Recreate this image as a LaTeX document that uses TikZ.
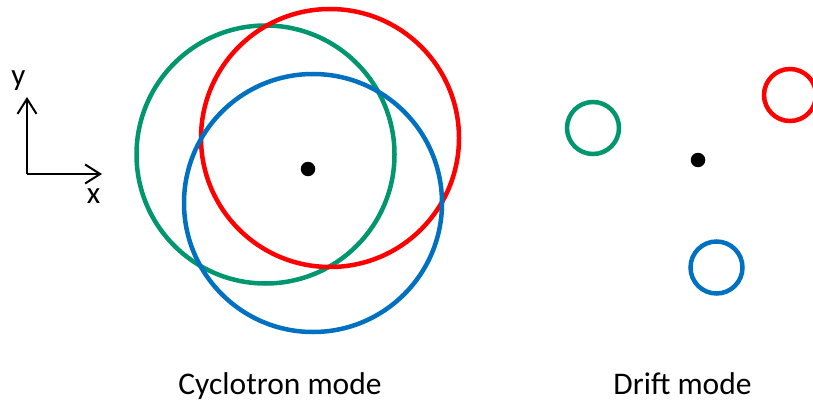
\documentclass[tikz,border=0pt]{standalone}
\usepackage{fontspec}
\setmainfont{Carlito}
\usetikzlibrary{arrows.meta}
\definecolor{cgreen}{RGB}{0,150,110}
\definecolor{cred}{RGB}{255,0,0}
\definecolor{cblue}{RGB}{0,112,192}
\tikzset{
  orbit/.style={circle, draw=#1, line width=4.5pt, inner sep=0pt, minimum size=258pt},
  small/.style={circle, draw=#1, line width=4.5pt, inner sep=0pt, minimum size=52pt},
  guide/.style={circle, fill=black, inner sep=0pt, minimum size=14.5pt},
  label/.style={font=\fontsize{31.5}{34}\selectfont, anchor=base},
  axislabel/.style={font=\fontsize{31}{33}\selectfont, anchor=base},
  axis/.style={line width=2pt, -{Straight Barb[length=15pt,width=19pt,line width=2pt]}}
}
\begin{document}
\begin{tikzpicture}[x=1pt,y=-1pt]
\useasboundingbox (0,0) rectangle (813,401);
\clip (0,0) rectangle (813,401);
% axes
\coordinate (o) at (27,174);
\coordinate (ytip) at (27,97);
\coordinate (xtip) at (102,174);
\draw[axis] (o) -- (ytip);
\draw[axis] (o) -- (xtip);
\node[axislabel] (ylab) at (18.5,86) {y};
\node[axislabel] (xlab) at (93.5,203) {x};
% cyclotron mode
\node[orbit=cgreen] (g1) at (265.5,154.5) {};
\node[orbit=cred] (r1) at (330,138) {};
\node[orbit=cblue] (b1) at (313,203) {};
\node[guide] (c1) at (308,169) {};
% drift mode
\node[small=cgreen] (g2) at (593,128) {};
\node[small=cred] (r2) at (790,95) {};
\node[small=cblue] (b2) at (716.5,267.5) {};
\node[guide] (c2) at (698,160) {};
% captions
\node[label] (t1) at (280,394) {Cyclotron mode};
\node[label] (t2) at (682.5,394) {Drift mode};
\end{tikzpicture}
\end{document}
